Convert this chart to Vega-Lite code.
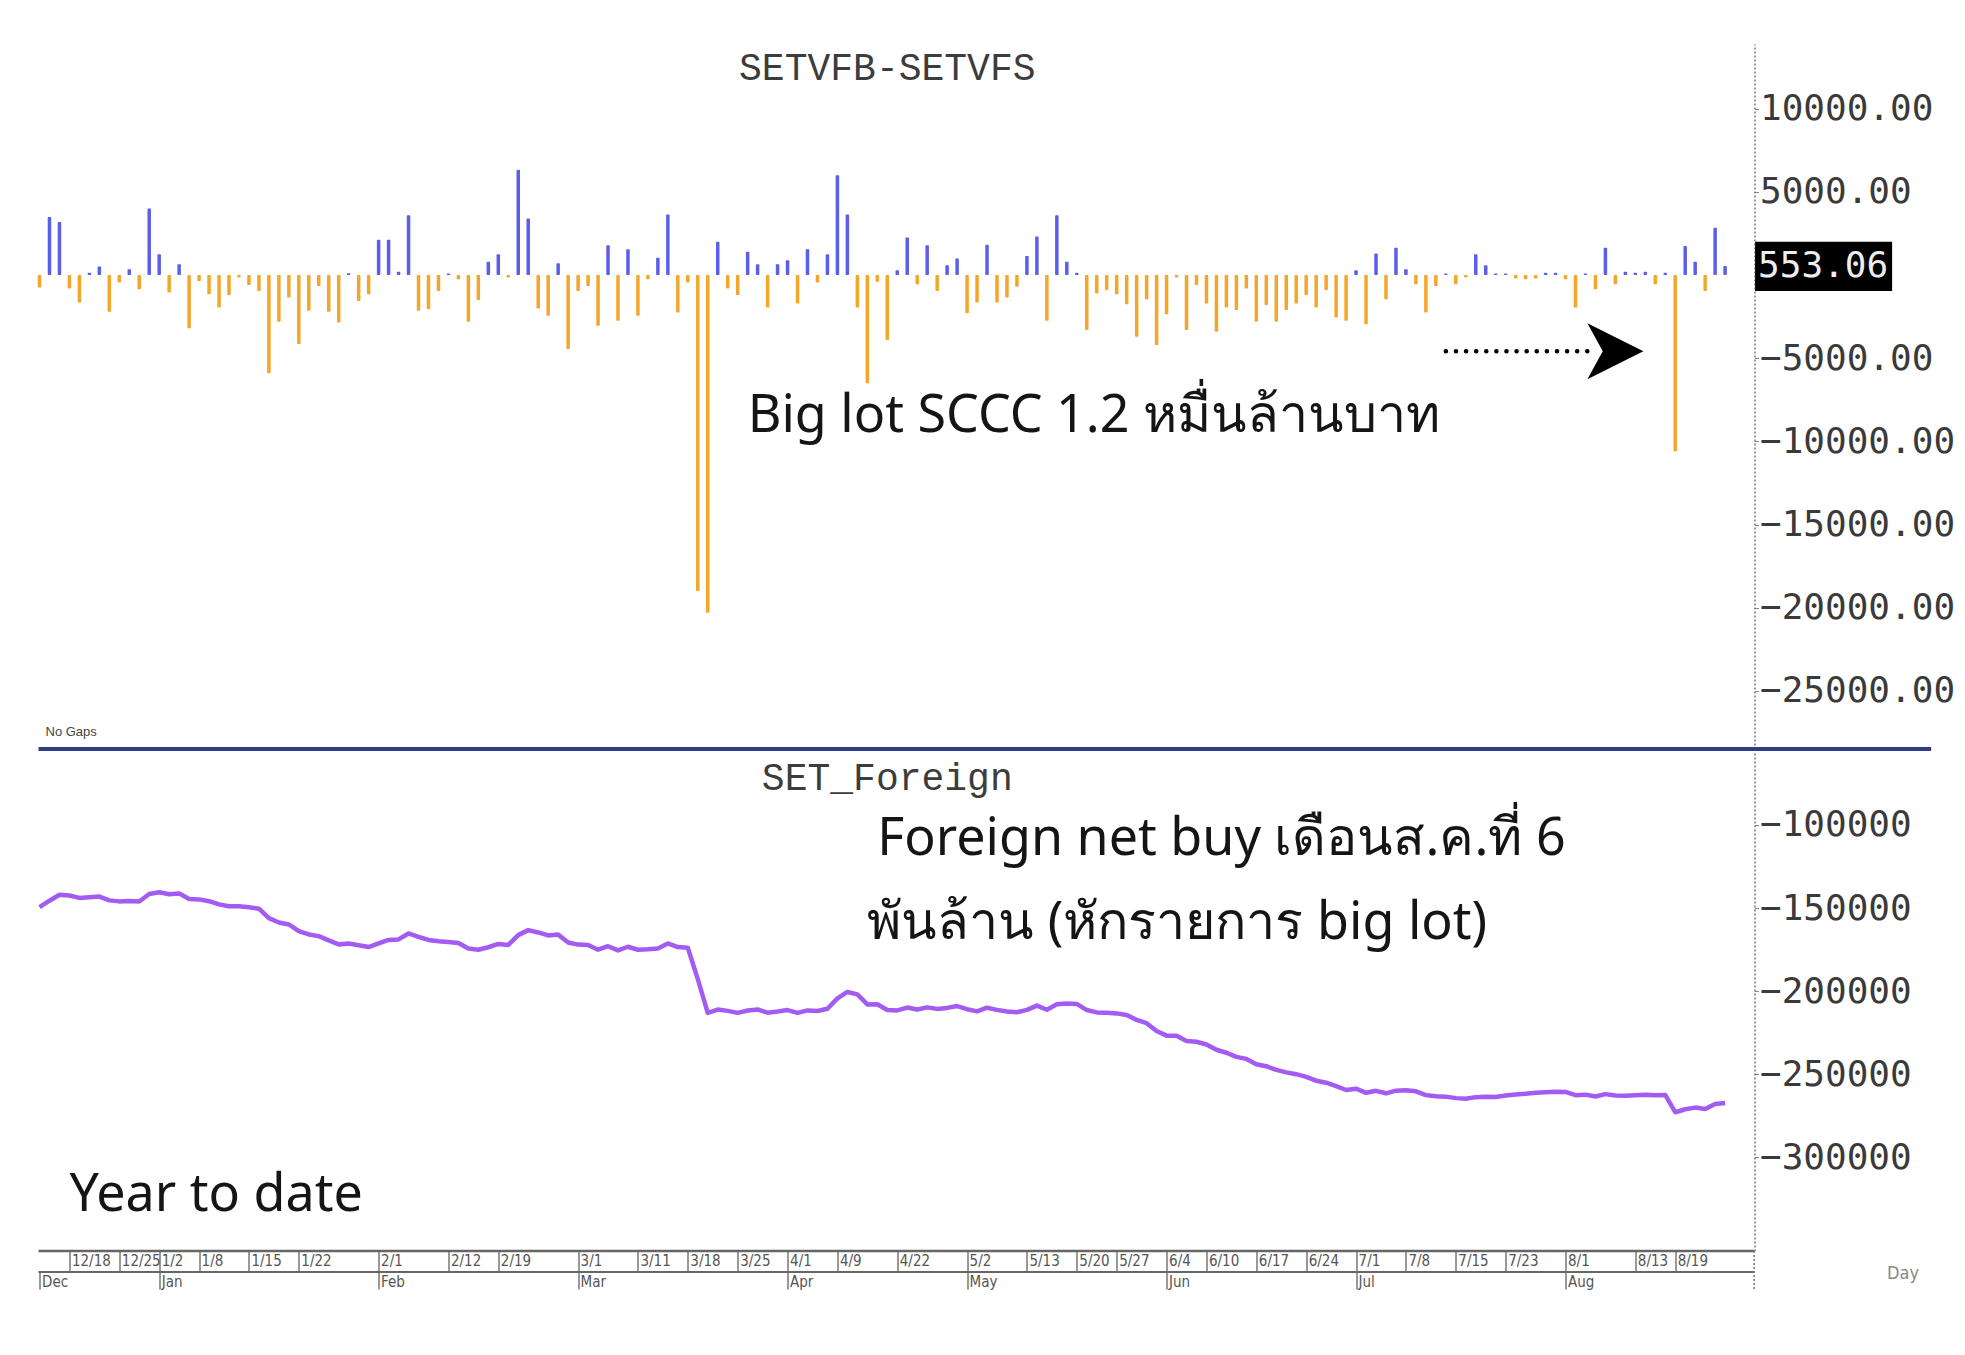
{
  "$schema": "https://vega.github.io/schema/vega-lite/v6.json",
  "padding": {"left": 36.5, "top": 44, "right": 5, "bottom": 5},
  "background": "white",
  "config": {"view": {"stroke": null}, "axis": {"grid": false}},
  "spacing": 0,
  "datasets": {
    "days": [
      {"date":"2018-12-13","net":-740,"cum":-149400},
      {"date":"2018-12-14","net":3500,"cum":-145600},
      {"date":"2018-12-17","net":3200,"cum":-142000},
      {"date":"2018-12-18","net":-800,"cum":-142500},
      {"date":"2018-12-19","net":-1650,"cum":-143900},
      {"date":"2018-12-20","net":150,"cum":-143500},
      {"date":"2018-12-21","net":520,"cum":-143100},
      {"date":"2018-12-24","net":-2200,"cum":-145400},
      {"date":"2018-12-25","net":-450,"cum":-146000},
      {"date":"2018-12-26","net":360,"cum":-145800},
      {"date":"2018-12-27","net":-850,"cum":-146100},
      {"date":"2018-12-28","net":4000,"cum":-141600},
      {"date":"2019-01-02","net":1260,"cum":-140500},
      {"date":"2019-01-03","net":-1050,"cum":-141700},
      {"date":"2019-01-04","net":660,"cum":-141200},
      {"date":"2019-01-07","net":-3200,"cum":-144600},
      {"date":"2019-01-08","net":-350,"cum":-144800},
      {"date":"2019-01-09","net":-1150,"cum":-145900},
      {"date":"2019-01-10","net":-1950,"cum":-147800},
      {"date":"2019-01-11","net":-1200,"cum":-148900},
      {"date":"2019-01-14","net":-150,"cum":-149000},
      {"date":"2019-01-15","net":-600,"cum":-149500},
      {"date":"2019-01-16","net":-950,"cum":-150400},
      {"date":"2019-01-17","net":-5900,"cum":-156100},
      {"date":"2019-01-18","net":-2800,"cum":-158700},
      {"date":"2019-01-21","net":-1350,"cum":-159900},
      {"date":"2019-01-22","net":-4150,"cum":-163900},
      {"date":"2019-01-23","net":-2150,"cum":-165900},
      {"date":"2019-01-24","net":-650,"cum":-166900},
      {"date":"2019-01-25","net":-2200,"cum":-169500},
      {"date":"2019-01-28","net":-2850,"cum":-171900},
      {"date":"2019-01-29","net":120,"cum":-171300},
      {"date":"2019-01-30","net":-1550,"cum":-172400},
      {"date":"2019-01-31","net":-1150,"cum":-173500},
      {"date":"2019-02-01","net":2130,"cum":-171300},
      {"date":"2019-02-04","net":2130,"cum":-169200},
      {"date":"2019-02-05","net":200,"cum":-168900},
      {"date":"2019-02-06","net":3600,"cum":-165300},
      {"date":"2019-02-07","net":-2150,"cum":-167300},
      {"date":"2019-02-08","net":-2050,"cum":-169200},
      {"date":"2019-02-11","net":-950,"cum":-170000},
      {"date":"2019-02-12","net":100,"cum":-170400},
      {"date":"2019-02-13","net":-250,"cum":-171100},
      {"date":"2019-02-14","net":-2800,"cum":-174400},
      {"date":"2019-02-15","net":-1500,"cum":-175100},
      {"date":"2019-02-18","net":800,"cum":-173600},
      {"date":"2019-02-19","net":1250,"cum":-171600},
      {"date":"2019-02-20","net":-150,"cum":-172200},
      {"date":"2019-02-21","net":6340,"cum":-166300},
      {"date":"2019-02-22","net":3400,"cum":-163300},
      {"date":"2019-02-25","net":-2000,"cum":-164700},
      {"date":"2019-02-26","net":-2450,"cum":-166500},
      {"date":"2019-02-27","net":720,"cum":-166000},
      {"date":"2019-02-28","net":-4450,"cum":-170700},
      {"date":"2019-03-01","net":-950,"cum":-172000},
      {"date":"2019-03-04","net":-650,"cum":-172300},
      {"date":"2019-03-05","net":-3050,"cum":-175100},
      {"date":"2019-03-06","net":1800,"cum":-173000},
      {"date":"2019-03-07","net":-2750,"cum":-175500},
      {"date":"2019-03-08","net":1550,"cum":-173300},
      {"date":"2019-03-11","net":-2450,"cum":-175100},
      {"date":"2019-03-12","net":-250,"cum":-174800},
      {"date":"2019-03-13","net":1050,"cum":-174300},
      {"date":"2019-03-14","net":3650,"cum":-171300},
      {"date":"2019-03-15","net":-2250,"cum":-173500},
      {"date":"2019-03-18","net":-450,"cum":-173900},
      {"date":"2019-03-19","net":-19000,"cum":-192800},
      {"date":"2019-03-20","net":-20300,"cum":-213100},
      {"date":"2019-03-21","net":2000,"cum":-211100},
      {"date":"2019-03-22","net":-800,"cum":-211900},
      {"date":"2019-03-25","net":-1200,"cum":-213100},
      {"date":"2019-03-26","net":1400,"cum":-211700},
      {"date":"2019-03-27","net":650,"cum":-211000},
      {"date":"2019-03-28","net":-1950,"cum":-213000},
      {"date":"2019-03-29","net":650,"cum":-212300},
      {"date":"2019-04-01","net":900,"cum":-211400},
      {"date":"2019-04-02","net":-1700,"cum":-213100},
      {"date":"2019-04-03","net":1550,"cum":-211600},
      {"date":"2019-04-04","net":-450,"cum":-212000},
      {"date":"2019-04-05","net":1250,"cum":-210600},
      {"date":"2019-04-09","net":6000,"cum":-204400},
      {"date":"2019-04-10","net":3650,"cum":-200500},
      {"date":"2019-04-11","net":-1950,"cum":-202000},
      {"date":"2019-04-17","net":-6500,"cum":-208000},
      {"date":"2019-04-18","net":-400,"cum":-207900},
      {"date":"2019-04-19","net":-3900,"cum":-211400},
      {"date":"2019-04-22","net":300,"cum":-211600},
      {"date":"2019-04-23","net":2270,"cum":-209900},
      {"date":"2019-04-24","net":-550,"cum":-211100},
      {"date":"2019-04-25","net":1800,"cum":-209800},
      {"date":"2019-04-26","net":-950,"cum":-210700},
      {"date":"2019-04-29","net":600,"cum":-210100},
      {"date":"2019-04-30","net":1000,"cum":-209000},
      {"date":"2019-05-02","net":-2300,"cum":-210900},
      {"date":"2019-05-03","net":-1650,"cum":-212200},
      {"date":"2019-05-07","net":1830,"cum":-210000},
      {"date":"2019-05-08","net":-1650,"cum":-211300},
      {"date":"2019-05-09","net":-1350,"cum":-212300},
      {"date":"2019-05-10","net":-700,"cum":-212700},
      {"date":"2019-05-13","net":1150,"cum":-211300},
      {"date":"2019-05-14","net":2330,"cum":-208700},
      {"date":"2019-05-15","net":-2750,"cum":-211200},
      {"date":"2019-05-16","net":3600,"cum":-207900},
      {"date":"2019-05-17","net":800,"cum":-207500},
      {"date":"2019-05-20","net":150,"cum":-207700},
      {"date":"2019-05-21","net":-3300,"cum":-211400},
      {"date":"2019-05-22","net":-1100,"cum":-212800},
      {"date":"2019-05-23","net":-900,"cum":-213000},
      {"date":"2019-05-27","net":-1150,"cum":-213400},
      {"date":"2019-05-28","net":-1750,"cum":-214400},
      {"date":"2019-05-29","net":-3700,"cum":-217300},
      {"date":"2019-05-30","net":-1450,"cum":-219300},
      {"date":"2019-05-31","net":-4200,"cum":-224000},
      {"date":"2019-06-04","net":-2350,"cum":-226800},
      {"date":"2019-06-05","net":-150,"cum":-226900},
      {"date":"2019-06-06","net":-3300,"cum":-230000},
      {"date":"2019-06-07","net":-600,"cum":-230500},
      {"date":"2019-06-10","net":-1700,"cum":-232100},
      {"date":"2019-06-11","net":-3400,"cum":-235300},
      {"date":"2019-06-12","net":-1950,"cum":-237100},
      {"date":"2019-06-13","net":-2100,"cum":-239600},
      {"date":"2019-06-14","net":-800,"cum":-240800},
      {"date":"2019-06-17","net":-2800,"cum":-244000},
      {"date":"2019-06-18","net":-1800,"cum":-245200},
      {"date":"2019-06-19","net":-2800,"cum":-247400},
      {"date":"2019-06-20","net":-2100,"cum":-248900},
      {"date":"2019-06-21","net":-1700,"cum":-250000},
      {"date":"2019-06-24","net":-1200,"cum":-251600},
      {"date":"2019-06-25","net":-1950,"cum":-253900},
      {"date":"2019-06-26","net":-900,"cum":-255100},
      {"date":"2019-06-27","net":-2550,"cum":-257200},
      {"date":"2019-06-28","net":-2750,"cum":-259500},
      {"date":"2019-07-01","net":300,"cum":-258700},
      {"date":"2019-07-02","net":-2950,"cum":-261200},
      {"date":"2019-07-03","net":1300,"cum":-260000},
      {"date":"2019-07-04","net":-1450,"cum":-261500},
      {"date":"2019-07-05","net":1650,"cum":-259900},
      {"date":"2019-07-08","net":350,"cum":-259700},
      {"date":"2019-07-09","net":-550,"cum":-260300},
      {"date":"2019-07-10","net":-2250,"cum":-262600},
      {"date":"2019-07-11","net":-650,"cum":-263300},
      {"date":"2019-07-12","net":100,"cum":-263500},
      {"date":"2019-07-15","net":-550,"cum":-264400},
      {"date":"2019-07-17","net":-150,"cum":-264800},
      {"date":"2019-07-18","net":1250,"cum":-263800},
      {"date":"2019-07-19","net":600,"cum":-263500},
      {"date":"2019-07-22","net":100,"cum":-263700},
      {"date":"2019-07-23","net":100,"cum":-262800},
      {"date":"2019-07-24","net":-200,"cum":-262200},
      {"date":"2019-07-25","net":-250,"cum":-261700},
      {"date":"2019-07-26","net":-200,"cum":-261100},
      {"date":"2019-07-30","net":150,"cum":-260900},
      {"date":"2019-07-31","net":150,"cum":-260600},
      {"date":"2019-08-01","net":-250,"cum":-260700},
      {"date":"2019-08-02","net":-1950,"cum":-262600},
      {"date":"2019-08-05","net":100,"cum":-262300},
      {"date":"2019-08-06","net":-850,"cum":-263400},
      {"date":"2019-08-07","net":1650,"cum":-262000},
      {"date":"2019-08-08","net":-550,"cum":-262800},
      {"date":"2019-08-09","net":200,"cum":-262900},
      {"date":"2019-08-13","net":150,"cum":-262600},
      {"date":"2019-08-14","net":200,"cum":-262300},
      {"date":"2019-08-15","net":-550,"cum":-262700},
      {"date":"2019-08-16","net":150,"cum":-262500},
      {"date":"2019-08-19","net":-10600,"cum":-272900},
      {"date":"2019-08-20","net":1750,"cum":-271100},
      {"date":"2019-08-21","net":800,"cum":-270100},
      {"date":"2019-08-22","net":-950,"cum":-271000},
      {"date":"2019-08-23","net":2850,"cum":-268000},
      {"date":"2019-08-26","net":553.06,"cum":-267300}
    ]
  },
  "vconcat": [
    {
      "width": 1715,
      "height": 705,
      "layer": [
        {
          "data": {"name": "days"},
          "mark": {"type": "bar", "width": 3.5, "cornerRadius": 1},
          "encoding": {
            "x": {
              "field": "date", "type": "ordinal",
              "scale": {"type": "point", "padding": 0, "range": [0, 1685.6]},
              "axis": null
            },
            "y": {
              "field": "net", "type": "quantitative",
              "scale": {"domain": [-28500, 13900], "nice": false, "zero": false},
              "axis": {
                "orient": "right", "title": null,
                "values": [-25000, -20000, -15000, -10000, -5000, 5000, 10000],
                "format": ".2f", "labelLimit": 0,
                "labelFont": "DejaVu Sans Mono", "labelFontSize": 36, "labelColor": "#3a3a3a",
                "labelPadding": 1, "tickSize": 4, "tickColor": "#888",
                "domainColor": "#777", "domainDash": [2, 2], "domainWidth": 1.5
              }
            },
            "y2": {"datum": 0},
            "color": {"condition": {"test": "datum.net >= 0", "value": "#5b5ee8"}, "value": "#f4a62a"}
          }
        },
        {
          "data": {"values": [{"a": 1}]},
          "mark": {"type": "rule", "color": "#2f3b84", "strokeWidth": 4, "xOffset": -1, "x2Offset": 206},
          "encoding": {
            "x": {"datum": "2018-12-13", "type": "ordinal"},
            "x2": {"datum": "2019-08-26"},
            "y": {"datum": -28500, "type": "quantitative"}
          }
        },
        {
          "data": {"values": [{"t": "SETVFB-SETVFS"}]},
          "mark": {"type": "text", "font": "Liberation Mono", "fontSize": 38, "color": "#3c3c3c", "align": "center", "baseline": "middle"},
          "encoding": {
            "x": {"datum": "2019-04-19", "type": "ordinal"},
            "y": {"datum": 12400, "type": "quantitative"},
            "text": {"field": "t"}
          }
        },
        {
          "data": {"values": [{"t": "Big lot SCCC 1.2 หมื่นล้านบาท"}]},
          "mark": {"type": "text", "font": "Noto Sans", "fontSize": 52, "color": "#151515", "align": "left", "baseline": "middle"},
          "encoding": {
            "x": {"datum": "2019-03-26", "type": "ordinal"},
            "y": {"datum": -8490, "type": "quantitative"},
            "text": {"field": "t"}
          }
        },
        {
          "data": {"values": [{"t": "No Gaps"}]},
          "mark": {"type": "text", "font": "Liberation Sans", "fontSize": 13, "color": "#444", "align": "left", "baseline": "middle", "dx": 6},
          "encoding": {
            "x": {"datum": "2018-12-13", "type": "ordinal"},
            "y": {"datum": -27450, "type": "quantitative"},
            "text": {"field": "t"}
          }
        },
        {
          "data": {"values": [{"a": 1}]},
          "mark": {"type": "rule", "strokeDash": [0.1, 10], "strokeCap": "round", "strokeWidth": 4.5, "color": "#000"},
          "encoding": {
            "x": {"datum": "2019-07-12", "type": "ordinal"},
            "x2": {"datum": "2019-08-06"},
            "y": {"datum": -4575, "type": "quantitative"}
          }
        },
        {
          "data": {"values": [{"a": 1}]},
          "mark": {"type": "point", "shape": "M-1,-1L1,0L-1,1L-0.45,0Z", "size": 3136, "filled": true, "color": "#000", "opacity": 1},
          "encoding": {
            "x": {"datum": "2019-08-08", "type": "ordinal"},
            "y": {"datum": -4575, "type": "quantitative"}
          }
        },
        {
          "data": {"values": [{"a": 1}]},
          "mark": {"type": "rect", "color": "#000", "xOffset": 30, "x2Offset": 167},
          "encoding": {
            "x": {"datum": "2019-08-26", "type": "ordinal"},
            "x2": {"datum": "2019-08-26"},
            "y": {"datum": 2000, "type": "quantitative"},
            "y2": {"datum": -960}
          }
        },
        {
          "data": {"values": [{"t": "553.06"}]},
          "mark": {"type": "text", "font": "DejaVu Sans Mono", "fontSize": 36, "color": "#eeeeee", "align": "left", "baseline": "middle", "xOffset": 33},
          "encoding": {
            "x": {"datum": "2019-08-26", "type": "ordinal"},
            "y": {"datum": 553.06, "type": "quantitative"},
            "text": {"field": "t"}
          }
        }
      ]
    },
    {
      "width": 1715,
      "height": 500,
      "resolve": {"axis": {"x": "independent"}},
      "layer": [
        {
          "data": {"name": "days"},
          "mark": {"type": "line", "color": "#a35cf2", "strokeWidth": 4.5, "strokeJoin": "round"},
          "encoding": {
            "x": {
              "field": "date", "type": "ordinal",
              "scale": {"type": "point", "padding": 0, "range": [0, 1685.6]},
              "axis": {
                "orient": "bottom", "domain": false,
                "values": ["2018-12-18","2018-12-25","2019-01-02","2019-01-08","2019-01-15","2019-01-22","2019-02-01","2019-02-12","2019-02-19","2019-03-01","2019-03-11","2019-03-18","2019-03-25","2019-04-01","2019-04-09","2019-04-22","2019-05-02","2019-05-13","2019-05-20","2019-05-27","2019-06-04","2019-06-10","2019-06-17","2019-06-24","2019-07-01","2019-07-08","2019-07-15","2019-07-23","2019-08-01","2019-08-13","2019-08-19"],
                "labelExpr": "utcFormat(toDate(datum.value), '%-m/%-d')",
                "labelAngle": 0, "labelAlign": "left", "labelBaseline": "top",
                "labelPadding": -19, "labelOffset": 2, "labelOverlap": false, "labelFlush": false,
                "labelFont": "DejaVu Sans Condensed, Liberation Sans", "labelFontSize": 15, "labelColor": "#555",
                "tickSize": 21, "tickColor": "#777", "tickWidth": 1.5,
                "title": "Day", "titleX": 1863, "titleY": 22, "titleAlign": "center", "titleBaseline": "middle",
                "titleFont": "DejaVu Sans Condensed, Liberation Sans", "titleFontSize": 18, "titleFontWeight": "normal", "titleColor": "#888"
              }
            },
            "y": {
              "field": "cum", "type": "quantitative",
              "scale": {"domain": [-356400, -55500], "nice": false, "zero": false},
              "axis": {
                "orient": "right", "title": null,
                "values": [-300000, -250000, -200000, -150000, -100000],
                "format": "d", "labelLimit": 0,
                "labelFont": "DejaVu Sans Mono", "labelFontSize": 36, "labelColor": "#3a3a3a",
                "labelPadding": 1, "tickSize": 4, "tickColor": "#888",
                "domainColor": "#777", "domainDash": [2, 2], "domainWidth": 1.5
              }
            }
          }
        },
        {
          "data": {"name": "days"},
          "mark": {"type": "line", "opacity": 0},
          "encoding": {
            "x": {
              "field": "date", "type": "ordinal",
              "axis": {
                "orient": "bottom", "offset": 21, "domain": false,
                "values": ["2018-12-13","2019-01-02","2019-02-01","2019-03-01","2019-04-01","2019-05-02","2019-06-04","2019-07-01","2019-08-01"],
                "labelExpr": "utcFormat(toDate(datum.value), '%b')",
                "labelAngle": 0, "labelAlign": "left", "labelBaseline": "top",
                "labelPadding": -15, "labelOffset": 2, "labelOverlap": false, "labelFlush": false,
                "labelFont": "DejaVu Sans Condensed, Liberation Sans", "labelFontSize": 15, "labelColor": "#555",
                "tickSize": 17, "tickColor": "#777", "tickWidth": 1.5, "title": null
              }
            },
            "y": {"field": "cum", "type": "quantitative"}
          }
        },
        {
          "data": {"values": [{"a": 1}]},
          "mark": {"type": "rule", "color": "#666", "strokeWidth": 2.5, "xOffset": -1, "x2Offset": 29},
          "encoding": {
            "x": {"datum": "2018-12-13", "type": "ordinal", "axis": null},
            "x2": {"datum": "2019-08-26"},
            "y": {"datum": -356400, "type": "quantitative"}
          }
        },
        {
          "data": {"values": [{"a": 1}]},
          "mark": {"type": "rule", "color": "#666", "strokeWidth": 2, "xOffset": -1, "x2Offset": 29, "yOffset": 21},
          "encoding": {
            "x": {"datum": "2018-12-13", "type": "ordinal", "axis": null},
            "x2": {"datum": "2019-08-26"},
            "y": {"datum": -356400, "type": "quantitative"}
          }
        },
        {
          "data": {"values": [{"a": 1}]},
          "mark": {"type": "rule", "color": "#777", "strokeWidth": 1.5, "strokeDash": [2, 2], "xOffset": 29, "y2Offset": 40},
          "encoding": {
            "x": {"datum": "2019-08-26", "type": "ordinal", "axis": null},
            "y": {"datum": -356400, "type": "quantitative"},
            "y2": {"datum": -356400}
          }
        },
        {
          "data": {"values": [{"t": "SET_Foreign"}]},
          "mark": {"type": "text", "font": "Liberation Mono", "fontSize": 38, "color": "#3c3c3c", "align": "center", "baseline": "middle"},
          "encoding": {
            "x": {"datum": "2019-04-19", "type": "ordinal", "axis": null},
            "y": {"datum": -72400, "type": "quantitative"},
            "text": {"field": "t"}
          }
        },
        {
          "data": {"values": [{"t": "Foreign net buy เดือนส.ค.ที่ 6"}]},
          "mark": {"type": "text", "font": "Noto Sans", "fontSize": 52, "color": "#151515", "align": "left", "baseline": "middle"},
          "encoding": {
            "x": {"datum": "2019-04-18", "type": "ordinal", "axis": null},
            "y": {"datum": -108500, "type": "quantitative"},
            "text": {"field": "t"}
          }
        },
        {
          "data": {"values": [{"t": "พันล้าน (หักรายการ big lot)"}]},
          "mark": {"type": "text", "font": "Noto Sans", "fontSize": 52, "color": "#151515", "align": "left", "baseline": "middle"},
          "encoding": {
            "x": {"datum": "2019-04-17", "type": "ordinal", "axis": null},
            "y": {"datum": -159000, "type": "quantitative"},
            "text": {"field": "t"}
          }
        },
        {
          "data": {"values": [{"t": "Year to date"}]},
          "mark": {"type": "text", "font": "Noto Sans", "fontSize": 52, "color": "#151515", "align": "left", "baseline": "middle"},
          "encoding": {
            "x": {"datum": "2018-12-18", "type": "ordinal", "axis": null},
            "y": {"datum": -322700, "type": "quantitative"},
            "text": {"field": "t"}
          }
        }
      ]
    }
  ]
}
